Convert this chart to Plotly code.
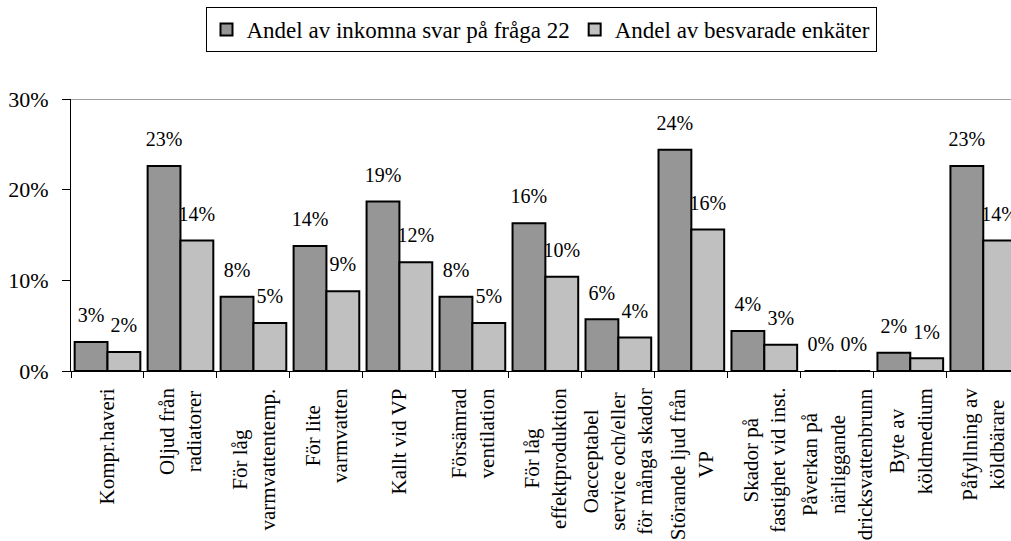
import plotly.graph_objects as go

# ── Data ──
kategorier = [
    "Kompr.haveri",
    "Oljud från<br>radiatorer",
    "För låg<br>varmvattentemp.",
    "För lite<br>varmvatten",
    "Kallt vid VP",
    "Försämrad<br>ventilation",
    "För låg<br>effektproduktion",
    "Oacceptabel<br>service och/eller<br>för många skador",
    "Störande ljud från<br>VP",
    "Skador på<br>fastighet vid inst.",
    "Påverkan på<br>närliggande<br>dricksvattenbrunn",
    "Byte av<br>köldmedium",
    "Påfyllning av<br>köldbärare",
]
andel_fraga22 = [3.2, 22.6, 8.2, 13.8, 18.7, 8.2, 16.3, 5.7, 24.4, 4.4, 0.0, 2.0, 22.6]
andel_enkater = [2.1, 14.4, 5.3, 8.8, 12.0, 5.3, 10.4, 3.7, 15.6, 2.9, 0.0, 1.4, 14.4]
serie_namn = ["Andel av inkomna svar på fråga 22", "Andel av besvarade enkäter"]

FONT = "serif"
MORK = "#969696"
LJUS = "#C0C0C0"

fig = go.Figure()

for namn, varden, farg in [(serie_namn[0], andel_fraga22, MORK),
                           (serie_namn[1], andel_enkater, LJUS)]:
    fig.add_trace(go.Bar(
        x=kategorier, y=varden, name=namn,
        marker=dict(color=farg, line=dict(color="black", width=2)),
        hoverinfo="y",
    ))

# etiketter ovanför staplarna (grupperade som staplarna)
for varden in [andel_fraga22, andel_enkater]:
    fig.add_trace(go.Scatter(
        x=kategorier, y=varden,
        mode="markers+text",
        text=[f"{v:.0f}%" for v in varden],
        textposition="top center",
        textfont=dict(family=FONT, size=20, color="black"),
        marker=dict(size=22, opacity=0),
        showlegend=False, hoverinfo="skip",
        cliponaxis=True,
    ))

# kategoritexter, roterade
for kat in kategorier:
    fig.add_annotation(
        x=kat, y=0, xref="x", yref="paper",
        text=kat, textangle=-90, showarrow=False,
        xanchor="center", yanchor="top", yshift=-15,
        align="center",
        font=dict(family=FONT, size=21, color="black"),
    )

# övre ramlinje
fig.add_shape(type="line", xref="paper", yref="y", x0=0, x1=1, y0=30, y1=30,
              line=dict(color="#808080", width=1.5))

fig.update_layout(
    width=1011, height=541,
    barmode="group", bargap=0.1, bargroupgap=0,
    scattermode="group",
    plot_bgcolor="white", paper_bgcolor="white",
    margin=dict(l=71, r=0, t=99, b=170, autoexpand=False),
    font=dict(family=FONT, size=20, color="black"),
    legend=dict(
        orientation="h", x=0.5, xanchor="center",
        yref="container", y=1 - 7 / 541, yanchor="top",
        bordercolor="black", borderwidth=1,
        font=dict(family=FONT, size=23),
        itemwidth=30, tracegroupgap=0,
    ),
    xaxis=dict(
        type="category", range=[-0.5, 12.38],
        showticklabels=False, ticks="outside", tickson="boundaries",
        ticklen=6, tickcolor="black",
        showline=True, linecolor="black", linewidth=1,
        showgrid=False, zeroline=False,
    ),
    yaxis=dict(
        range=[0, 30], dtick=10, ticksuffix="%",
        ticks="outside", ticklen=8, tickcolor="black",
        showline=True, linecolor="black", linewidth=1,
        showgrid=False, zeroline=False,
        tickfont=dict(family=FONT, size=22),
        ticklabelstandoff=9,
    ),
)

# ingen body-marginal, så att figuren fyller fönstret exakt
fig.write_html(
    "out.html",
    config={"displayModeBar": False},
    post_script="document.body.style.margin='0';document.body.style.overflow='hidden';",
)
